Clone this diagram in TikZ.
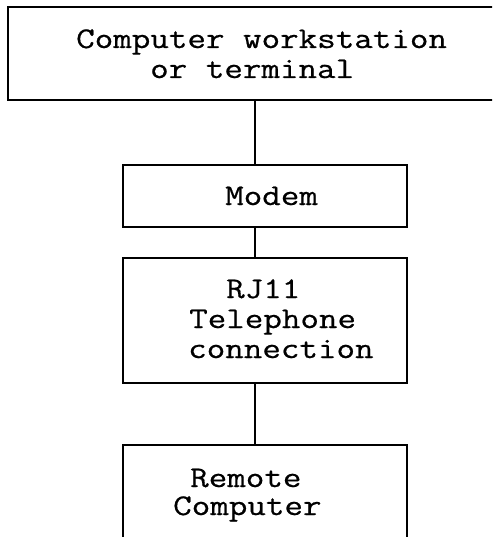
\documentclass[tikz,border=0pt]{standalone}
\usepackage{fontspec}
\newfontfamily\typewriter{Latin Modern Mono}[FakeStretch=1.2, FakeBold=0.6]
\begin{document}
\begin{tikzpicture}[x=1pt,y=-1pt,
  box/.style={draw=black, line width=1.6pt, rectangle, inner sep=0pt},
  label/.style={inner sep=0pt, anchor=base west, font=\typewriter\fontsize{30}{30}\selectfont},
  link/.style={draw=black, line width=1.5pt}]
  \clip (0,0) rectangle (492,537);
  \useasboundingbox (0,0) rectangle (492,537);
  \fill[white] (0,0) rectangle (492,537);

  % boxes
  \node[box, minimum width=492pt, minimum height=93pt] (ws) at (254,53.5) {};
  \node[box, minimum width=284pt, minimum height=62pt] (modem) at (265,196) {};
  \node[box, minimum width=284pt, minimum height=125pt] (rj) at (265,320.5) {};
  \node[box, minimum width=284pt, minimum height=120pt] (remote) at (265,505) {};

  % text
  \node[label] (t1) at (76,48) {Computer workstation};
  \node[label] (t2) at (150,78) {or terminal};
  \node[label] (t3) at (225,205) {Modem};
  \node[label] (t4) at (226,298) {RJ11};
  \node[label] (t5) at (189,328) {Telephone};
  \node[label] (t6) at (188,358) {connection};
  \node[label] (t7) at (190,487) {Remote};
  \node[label] (t8) at (173,515) {Computer};

  % connectors
  \coordinate (spine) at (255,0);
  \draw[link] (spine |- ws.south) -- (spine |- modem.north);
  \draw[link] (spine |- modem.south) -- (spine |- rj.north);
  \draw[link] (spine |- rj.south) -- (spine |- remote.north);
\end{tikzpicture}
\end{document}
